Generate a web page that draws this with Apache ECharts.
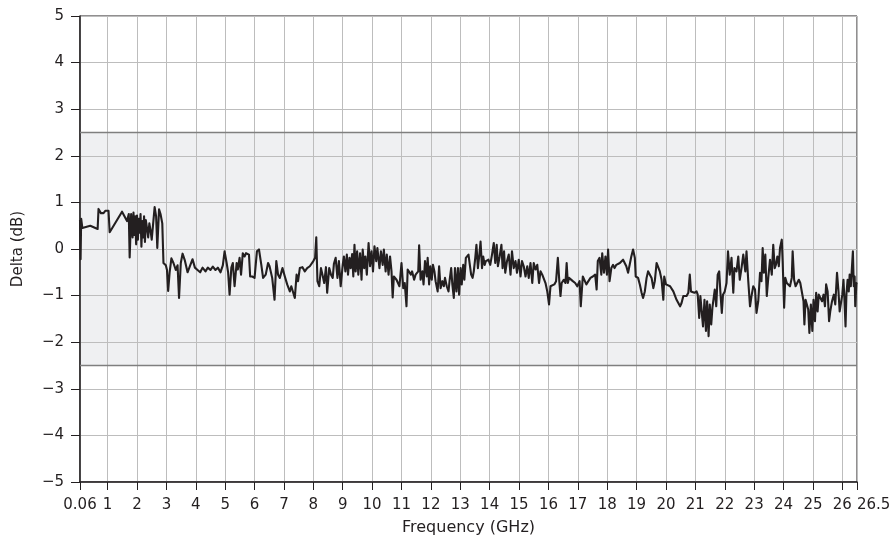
<!DOCTYPE html>
<html>
<head>
<meta charset="utf-8">
<script src="https://cdn.jsdelivr.net/npm/echarts@6/dist/echarts.min.js"></script>
<style>
html,body{margin:0;padding:0;background:#fff;}
#chart{width:890px;height:546px;}
</style>
</head>
<body>
<div id="chart"></div>
<script>
const freqGHz = [
  0.06,0.08,0.10,0.14,0.41,0.66,0.69,0.77,0.86,0.92,1.03,1.07,1.49,1.66,1.72,1.75,1.80,
  1.85,1.88,1.91,1.94,1.97,2.00,2.03,2.06,2.09,2.12,2.15,2.18,2.21,2.24,2.27,2.30,2.34,2.38,2.42,2.46,2.50,
  2.60,2.65,2.69,2.75,2.80,2.86,2.90,2.98,3.02,3.06,3.11,3.17,3.24,3.32,3.38,3.43,3.49,3.55,3.63,3.72,3.81,3.89,3.97,
  4.06,4.15,4.23,4.33,4.41,4.50,4.58,4.67,4.75,4.84,4.92,4.98,5.05,5.10,5.15,5.21,5.26,5.32,5.39,
  5.43,5.49,5.54,5.60,5.66,5.71,5.81,5.85,5.92,6.00,6.08,6.15,6.23,6.29,6.38,6.46,6.51,6.60,6.68,6.74,6.80,6.86,6.95,
  7.03,7.11,7.20,7.25,7.31,7.37,7.43,7.48,7.54,7.63,7.71,7.79,7.88,8.00,8.06,8.10,8.14,8.20,8.26,8.31,8.37,8.43,8.47,
  8.54,8.60,8.66,8.70,8.76,8.82,8.87,8.93,9.00,9.04,9.09,9.14,9.18,9.23,9.27,9.32,9.36,9.40,9.44,9.49,9.53,9.59,9.64,
  9.68,9.73,9.77,9.82,9.88,9.93,9.98,10.03,10.08,10.14,10.18,10.25,10.30,10.36,10.40,10.46,10.50,10.56,10.61,10.66,10.70,10.74,
  10.83,10.89,10.93,11.00,11.06,11.11,11.17,11.21,11.25,11.32,11.36,11.43,11.48,11.52,11.57,11.60,11.65,11.71,11.75,11.80,
  11.86,11.89,11.94,11.98,12.03,12.07,12.12,12.16,12.23,12.28,12.33,12.39,12.44,12.48,12.54,12.60,12.64,12.69,12.73,12.78,
  12.82,12.87,12.92,12.96,13.01,13.05,13.10,13.14,13.19,13.23,13.28,13.34,13.37,13.42,13.46,13.51,13.55,13.60,13.65,13.69,
  13.74,13.78,13.83,13.87,13.92,13.96,14.02,14.08,14.14,14.19,14.24,14.28,14.34,14.40,14.44,14.49,14.53,14.59,14.65,14.71,
  14.76,14.82,14.88,14.93,14.99,15.05,15.10,15.16,15.22,15.28,15.33,15.39,15.45,15.50,15.56,15.62,15.68,15.73,15.79,15.85,
  15.90,15.96,16.02,16.07,16.13,
  16.20,16.26,16.32,16.37,16.41,16.45,16.52,16.58,16.62,16.66,16.70,16.75,16.83,16.91,16.98,17.06,17.10,17.17,17.23,17.29,
  17.34,17.43,17.51,17.59,17.64,17.68,17.74,17.80,17.83,17.89,17.94,17.99,18.03,18.08,18.14,18.20,18.25,18.31,18.37,18.43,
  18.48,18.54,18.60,18.65,18.71,18.77,18.82,18.88,18.94,18.97,19.05,19.11,19.17,19.22,19.28,19.34,19.39,19.45,19.51,19.57,
  19.62,19.68,19.74,19.79,19.85,19.91,19.94,20.00,20.06,20.14,20.19,20.25,20.31,20.36,20.42,20.48,20.53,20.59,20.65,20.70,
  20.76,20.81,20.85,20.90,20.97,21.04,21.08,21.13,21.17,21.22,21.26,21.31,21.36,21.40,21.45,21.49,21.54,21.58,
  21.66,21.71,21.76,21.81,21.85,21.90,21.94,22.00,22.06,22.11,22.17,22.23,22.29,22.33,22.40,22.46,22.51,22.57,22.63,22.70,
  22.74,22.80,22.86,22.91,22.97,23.03,23.08,23.14,23.20,23.25,23.29,23.33,23.38,23.43,23.48,23.54,23.60,23.65,23.70,23.74,
  23.79,23.84,23.88,23.94,23.97,24.02,24.06,24.11,24.17,24.22,24.28,24.31,24.36,24.41,24.47,24.52,24.57,24.62,24.68,24.71,
  24.75,24.79,24.84,24.88,24.93,24.98,25.02,25.07,25.11,25.16,25.20,25.25,25.31,25.36,25.41,25.45,25.50,25.55,25.59,25.65,
  25.71,25.76,25.82,25.87,25.91,25.96,26.00,26.04,26.07,26.11,26.14,26.18,26.22,26.25,26.29,26.32,26.36,26.39,26.42,26.44,
  26.48,26.50
];
const deltaDb = [
  0.62,-0.22,0.65,0.45,0.50,0.43,0.86,0.77,0.77,0.82,0.82,0.36,0.80,0.60,0.75,-0.18,0.75,
  0.25,0.78,0.30,0.70,0.10,0.72,0.20,0.65,0.35,0.75,0.05,0.60,0.25,0.70,0.15,0.62,0.45,0.25,0.55,0.40,0.20,
  0.90,0.70,0.02,0.85,0.75,0.55,-0.30,-0.35,-0.45,-0.90,-0.50,-0.20,-0.30,-0.45,-0.35,-1.05,-0.30,-0.10,-0.25,-0.50,-0.35,-0.22,-0.40,
  -0.45,-0.50,-0.40,-0.48,-0.40,-0.45,-0.38,-0.45,-0.40,-0.50,-0.35,-0.05,-0.30,-0.50,-0.98,-0.40,-0.30,-0.80,-0.30,
  -0.44,-0.19,-0.55,-0.09,-0.16,-0.09,-0.12,-0.59,-0.59,-0.62,-0.05,-0.01,-0.34,-0.62,-0.55,-0.30,-0.37,-0.62,-1.09,-0.26,-0.55,-0.62,-0.41,
  -0.59,-0.76,-0.91,-0.80,-0.84,-1.05,-0.55,-0.69,-0.41,-0.39,-0.48,-0.41,-0.37,-0.26,-0.19,0.25,-0.69,-0.80,-0.41,-0.55,-0.73,-0.39,-0.94,
  -0.41,-0.55,-0.62,-0.32,-0.19,-0.62,-0.26,-0.80,-0.34,-0.16,-0.48,-0.12,-0.55,-0.19,-0.41,-0.11,-0.59,0.09,-0.48,-0.05,-0.55,-0.09,-0.66,
  -0.01,-0.41,-0.16,-0.55,0.13,-0.37,-0.05,-0.48,0.06,-0.26,0.02,-0.41,-0.05,-0.34,-0.01,-0.48,-0.12,-0.55,-0.16,-0.48,-1.04,-0.59,
  -0.66,-0.62,-0.80,-0.30,-0.84,-0.73,-1.23,-0.44,-0.41,-0.55,-0.48,-0.66,-0.55,-0.59,-0.48,0.08,-0.66,-0.48,-0.76,-0.26,
  -0.59,-0.19,-0.76,-0.37,-0.66,-0.34,-0.48,-0.69,-0.91,-0.37,-0.84,-0.69,-0.80,-0.62,-0.80,-0.91,-0.66,-0.41,-0.76,-1.05,
  -0.41,-0.91,-0.41,-0.98,-0.41,-0.76,-0.34,-0.66,-0.19,-0.16,-0.12,-0.41,-0.55,-0.62,-0.48,-0.19,0.09,-0.41,-0.12,0.16,
  -0.41,-0.16,-0.34,-0.26,-0.30,-0.23,-0.34,-0.12,0.13,-0.30,0.09,-0.37,-0.16,0.09,-0.41,-0.05,-0.51,-0.26,-0.12,-0.55,
  -0.05,-0.41,-0.26,-0.51,-0.23,-0.59,-0.26,-0.37,-0.59,-0.37,-0.62,-0.30,-0.73,-0.30,-0.44,-0.34,-0.73,-0.48,-0.55,-0.51,
  -0.73,-0.91,-1.19,-0.80,-0.76,
  -0.76,-0.69,-0.19,-0.69,-1.01,-0.73,-0.66,-0.73,-0.30,-0.73,-0.62,-0.66,-0.69,-0.73,-0.80,-0.69,-1.23,-0.59,-0.55,-0.76,
  -0.73,-0.62,-0.59,-0.55,-0.87,-0.26,-0.19,-0.55,-0.09,-0.51,-0.16,-0.55,-0.01,-0.69,-0.41,-0.34,-0.41,-0.34,-0.37,-0.30,
  -0.26,-0.23,-0.26,-0.37,-0.51,-0.55,-0.16,-0.01,-0.19,-0.59,-0.62,-0.76,-0.94,-1.05,-0.91,-0.62,-0.48,-0.48,-0.62,-0.84,
  -0.69,-0.30,-0.30,-0.48,-0.66,-1.09,-0.59,-0.76,-0.80,-0.80,-0.84,-0.91,-0.94,-1.09,-1.12,-1.23,-1.16,-1.01,-0.98,-1.01,
  -0.94,-0.55,-0.91,-0.87,-0.94,-0.91,-0.98,-1.48,-1.01,-1.05,-1.66,-1.09,-1.76,-1.12,-1.87,-1.19,-1.62,-1.26,
  -0.87,-1.23,-0.55,-0.48,-0.91,-1.37,-0.98,-0.91,-0.73,-0.05,-0.55,-0.19,-0.94,-0.41,-0.48,-0.16,-0.66,-0.41,-0.12,-0.48,
  -0.05,-0.69,-1.23,-1.01,-0.80,-0.87,-1.37,-1.12,-0.51,-0.69,0.02,-0.51,-0.12,-1.01,-0.62,-0.23,-0.55,0.09,-0.41,-0.34,
  -0.16,-0.37,0.02,0.20,-0.26,-1.26,-0.62,-0.73,-0.69,-0.80,-0.62,-0.05,-0.66,-0.80,-0.80,-0.66,-0.73,-0.76,-1.12,-1.62,
  -1.09,-1.09,-1.30,-1.80,-1.19,-1.76,-1.09,-1.55,-0.94,-1.34,-0.98,-0.94,-1.12,-0.98,-1.23,-0.76,-0.91,-1.55,-1.34,-1.12,
  -0.98,-1.19,-0.51,-0.91,-1.34,-1.37,-0.98,-0.66,-1.05,-1.66,-0.98,-0.66,-0.91,-0.55,-0.80,-0.48,-0.05,-0.80,-0.59,-1.23,
  -0.73,-0.75
];
const xTickValues = [0.06,1,2,3,4,5,6,7,8,9,10,11,12,13,14,15,16,17,18,19,20,21,22,23,24,25,26,26.5];
const xTickLabels = ['0.06','1','2','3','4','5','6','7','8','9','10','11','12','13','14','15','16','17','18','19','20','21','22','23','24','25','26','26.5'];
const yRange = [-5, 5];
const bandLimitsDb = [2.5, -2.5];
const xRange = [0.06, 26.5];

const traceData = freqGHz.map((f, i) => [f, deltaDb[i]]);
const font = 'DejaVu Sans';
const ink = '#231f20';

const chart = echarts.init(document.getElementById('chart'), null, {renderer: 'canvas'});
chart.setOption({
  animation: false,
  backgroundColor: '#ffffff',
  grid: {left: 80, right: 33, top: 16, bottom: 64, show: true, borderColor: ink, borderWidth: 1,
    backgroundColor: 'transparent', containLabel: false, outerBoundsMode: 'none'},
  xAxis: {
    type: 'value', min: xRange[0], max: xRange[1],
    name: 'Frequency (GHz)', nameLocation: 'middle', nameGap: 38,
    nameTextStyle: {fontFamily: font, fontSize: 16, color: ink},
    axisLine: {show: true, onZero: false, lineStyle: {color: ink, width: 1.5}},
    axisTick: {show: true, inside: false, length: 8, customValues: xTickValues, lineStyle: {color: ink, width: 1}},
    axisLabel: {
      customValues: xTickValues, margin: 16, fontFamily: font, fontSize: 15, color: ink,
      hideOverlap: false, showMaxLabel: true, showMinLabel: true, alignMaxLabel: 'left',
      formatter: v => {
        const i = xTickValues.indexOf(v);
        return i < 0 ? '' : xTickLabels[i];
      }
    },
    splitLine: {show: true, lineStyle: {color: '#bdbdbd', width: 1}}
  },
  yAxis: {
    type: 'value', min: yRange[0], max: yRange[1], interval: 1,
    name: 'Delta (dB)', nameLocation: 'middle', nameGap: 54, nameRotate: 90,
    nameTextStyle: {fontFamily: font, fontSize: 15, color: ink},
    axisLine: {show: true, onZero: false, lineStyle: {color: ink, width: 1.5}},
    axisTick: {show: true, inside: false, length: 9, lineStyle: {color: ink, width: 1}},
    axisLabel: {margin: 16, fontFamily: font, fontSize: 15, color: ink,
      formatter: v => (v < 0 ? '\u2212' + Math.abs(v) : String(v))},
    splitLine: {show: true, lineStyle: {color: '#bdbdbd', width: 1}}
  },
  series: [
    {
      type: 'custom', z: -1, silent: true,
      data: [[xRange[0], bandLimitsDb[0], xRange[1], bandLimitsDb[1]]],
      renderItem: function (params, api) {
        const p1 = api.coord([api.value(0), api.value(1)]);
        const p2 = api.coord([api.value(2), api.value(3)]);
        return {type: 'rect', shape: {x: p1[0], y: p1[1], width: p2[0] - p1[0], height: p2[1] - p1[1]},
          style: {fill: '#eff0f2'}};
      }
    },
    {
      type: 'line', silent: true, showSymbol: false, z: 3,
      data: [[xRange[0], bandLimitsDb[0]], [xRange[1], bandLimitsDb[0]]],
      lineStyle: {color: '#7f7f7f', width: 1.5}
    },
    {
      type: 'line', silent: true, showSymbol: false, z: 3,
      data: [[xRange[0], bandLimitsDb[1]], [xRange[1], bandLimitsDb[1]]],
      lineStyle: {color: '#7f7f7f', width: 1.5}
    },
    {
      type: 'line', silent: true, showSymbol: false, z: 4,
      data: traceData,
      lineStyle: {color: ink, width: 2.1, join: 'round'}
    }
  ]
});
</script>
</body>
</html>
